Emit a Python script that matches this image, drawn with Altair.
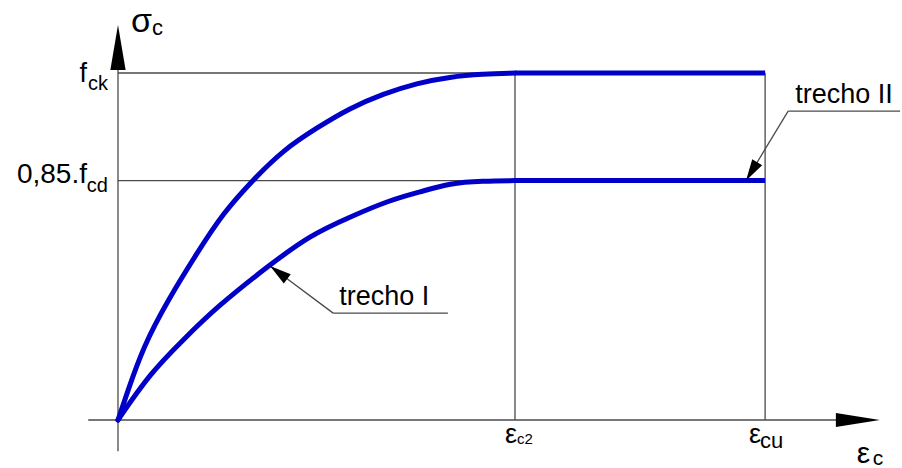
import math

import altair as alt
import pandas as pd

# Concrete stress-strain diagram (parabola-rectangle).
# Strain is expressed as eps / eps_c2, stress as sigma / f_ck.
EPS_C2 = 1.0
EPS_CU = 1.63
F_CK = 1.0
F_CD85 = 0.69

# characteristic curve (f_ck): rising branch, then plateau
upper_eps = [0.0, 0.023, 0.063, 0.126, 0.199, 0.265, 0.340, 0.416, 0.501,
             0.584, 0.668, 0.753, 0.836, 0.919, 1.0]
upper_sig = [0.0, 0.078, 0.210, 0.346, 0.481, 0.597, 0.692, 0.778, 0.842,
             0.899, 0.940, 0.971, 0.989, 0.997, 1.0]

# design curve (0,85 f_cd): rising branch, then plateau
lower_eps = [0.0, 0.081, 0.164, 0.249, 0.375, 0.484, 0.584, 0.685, 0.761,
             0.836, 0.919, 1.0]
lower_sig = [0.0, 0.135, 0.231, 0.326, 0.441, 0.533, 0.585, 0.634, 0.657,
             0.683, 0.689, 0.69]

# axis extents (arrow tips)
x_axis_span = [-0.075, 1.919]
y_axis_span = [-0.09, 1.138]

# leader lines: arrow tip, knee, end of underline
leader_I = [(0.383, 0.444), (0.542, 0.308), (0.831, 0.308)]
leader_II = [(1.582, 0.69), (1.688, 0.890), (1.970, 0.890)]

W, H = 902, 468
X_DOM = [-0.2972, 1.9748]
Y_DOM = [-0.1383, 1.2104]
PX_X = W / (X_DOM[1] - X_DOM[0])
PX_Y = H / (Y_DOM[1] - Y_DOM[0])

FONT = "Liberation Sans"
BLUE = "#0000c8"
THIN = "#4a4a4a"

xs = alt.Scale(domain=X_DOM, nice=False, zero=False)
ys = alt.Scale(domain=Y_DOM, nice=False, zero=False)
X = alt.X("x:Q", scale=xs, axis=None)
Y = alt.Y("y:Q", scale=ys, axis=None)

# thin construction lines and axes
segs = [
    (0.0, F_CK, EPS_CU, F_CK),
    (0.0, F_CD85, EPS_CU, F_CD85),
    (EPS_C2, 0.0, EPS_C2, F_CK),
    (EPS_CU, 0.0, EPS_CU, F_CK),
    (x_axis_span[0], 0.0, x_axis_span[1] - 0.08, 0.0),
    (0.0, y_axis_span[0], 0.0, y_axis_span[1] - 0.1),
]
for pts in (leader_I, leader_II):
    for a, b in zip(pts[:-1], pts[1:]):
        segs.append((a[0], a[1], b[0], b[1]))
seg_df = pd.DataFrame(segs, columns=["x", "y", "x2", "y2"])

rules = alt.Chart(seg_df).mark_rule(color=THIN, strokeWidth=1.3).encode(
    x=X, y=Y, x2="x2:Q", y2="y2:Q"
)

# smooth rising branches
branch_df = pd.concat([
    pd.DataFrame({"x": upper_eps, "y": upper_sig, "serie": "fck",
                  "i": range(len(upper_eps))}),
    pd.DataFrame({"x": lower_eps, "y": lower_sig, "serie": "fcd",
                  "i": range(len(lower_eps))}),
])
branches = alt.Chart(branch_df).mark_line(
    color=BLUE, strokeWidth=5, strokeCap="round", interpolate="basis"
).encode(x=X, y=Y, detail="serie:N", order="i:Q")

# constant-stress plateaus from eps_c2 to eps_cu
plateau_df = pd.DataFrame({
    "x": [EPS_C2, EPS_C2],
    "x2": [EPS_CU, EPS_CU],
    "y": [F_CK, F_CD85],
})
plateaus = alt.Chart(plateau_df).mark_rule(
    color=BLUE, strokeWidth=5, strokeCap="butt"
).encode(x=X, x2="x2:Q", y=Y)


def arrow_head(x, y, path, length, angle=0):
    return alt.Chart(pd.DataFrame({"x": [x], "y": [y]})).mark_point(
        shape=path, size=4 * length * length, filled=True, fill="black",
        strokeWidth=0, opacity=1, angle=angle
    ).encode(x=X, y=Y)


def leader_angle(pts):
    (tx, ty), (kx, ky) = pts[0], pts[1]
    ux = (kx - tx) * PX_X
    uy = -(ky - ty) * PX_Y
    return math.degrees(math.atan2(-ux, uy)) % 360


HEAD = "M 0 0 L -0.27 1 L 0.27 1 Z"
heads = [
    arrow_head(0.0, y_axis_span[1], "M 0 0 L -0.17 1 L 0.17 1 Z", 45),
    arrow_head(x_axis_span[1], 0.0, "M 0 0 L -1 -0.16 L -1 0.16 Z", 44),
    arrow_head(leader_I[0][0], leader_I[0][1], HEAD, 21.5, leader_angle(leader_I)),
    arrow_head(leader_II[0][0], leader_II[0][1], HEAD, 21.5, leader_angle(leader_II)),
]


def label(x, y, text, size, dx, dy, align="left"):
    return alt.Chart(pd.DataFrame({"x": [x], "y": [y]})).mark_text(
        text=text, font=FONT, fontSize=size, align=align,
        baseline="alphabetic", dx=dx, dy=dy, color="black"
    ).encode(x=X, y=Y)


labels = [
    # ordinate
    label(0.0, y_axis_span[1], "σ", 34, 13, 7),
    label(0.0, y_axis_span[1], "c", 22, 34, 10),
    label(0.0, F_CK, "f", 27, -31, 9, "right"),
    label(0.0, F_CK, "ck", 20, -10, 17, "right"),
    label(0.0, F_CD85, "0,85.f", 28, -31, 2, "right"),
    label(0.0, F_CD85, "cd", 20, -10, 11, "right"),
    # abscissa
    label(EPS_C2, 0.0, "ε", 27, -10, 23),
    label(EPS_C2, 0.0, "c2", 15, 2, 24),
    label(EPS_CU, 0.0, "ε", 27, -16, 23),
    label(EPS_CU, 0.0, "cu", 22, -5, 28),
    label(x_axis_span[1], 0.0, "ε", 30, -23, 43),
    label(x_axis_span[1], 0.0, "c", 21, -7, 45),
    # stretch annotations
    label(leader_I[1][0], leader_I[1][1], "trecho I", 27, 6, -8),
    label(leader_II[1][0], leader_II[1][1], "trecho II", 27, 7, -8),
]

chart = alt.layer(rules, branches, plateaus, *heads, *labels).properties(
    width=W, height=H, padding=0, autosize=alt.AutoSizeParams(type="none"),
    background="white"
).configure_view(stroke=None)

chart.save("out.html", embed_options={"renderer": "svg", "actions": False})
